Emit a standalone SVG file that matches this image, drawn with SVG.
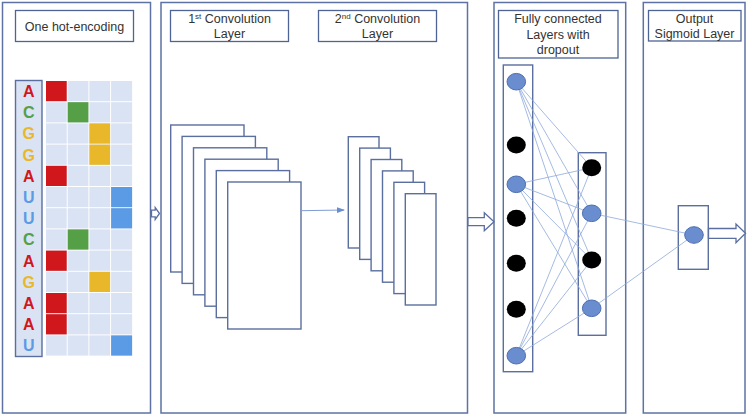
<svg xmlns="http://www.w3.org/2000/svg" width="747" height="416" viewBox="0 0 747 416">
<style>
.panel{fill:#fff;stroke:#5E72A3;stroke-width:1.5}
.hdr{fill:#fff;stroke:#4F6496;stroke-width:1.3}
.t{font-family:"Liberation Sans",Arial,sans-serif;font-size:12.5px;fill:#333;text-anchor:middle}
.sup{font-size:8px}
.lt{font-family:"Liberation Sans",Arial,sans-serif;font-size:16px;font-weight:bold;text-anchor:middle}
.map{fill:#fff;stroke:#5A6E9F;stroke-width:1.4}
.nb{fill:#6A8DCF;stroke:#4D6FAE;stroke-width:1}
.nk{fill:#000}
.conn line{stroke:#8EA9DB;stroke-width:0.8}
.barrow{fill:#fff;stroke:#5A6E9F;stroke-width:1.3}
</style>
<defs>
<marker id="ah" markerWidth="8" markerHeight="8" refX="7" refY="4" orient="auto" markerUnits="userSpaceOnUse">
<path d="M0,1 L8,4 L0,7 Z" fill="#6A8DCF"/>
</marker>
</defs>

<g id="panel-onehot">
<rect class="panel" x="2.5" y="2.5" width="148" height="410.5"/>
<rect class="hdr" x="15.5" y="10.5" width="118" height="31"/>
<text class="t" x="74.5" y="30.5">One hot-encoding</text>
<rect x="15.5" y="80.5" width="26.5" height="276" fill="#DAE3F3" stroke="#5A6E9F" stroke-width="1.4"/>
</g>

<g id="panel-conv">
<rect class="panel" x="161" y="2.5" width="306.5" height="410.5"/>
<rect class="hdr" x="170.5" y="10.5" width="118" height="31"/>
<text class="t" x="229.5" y="22.5">1<tspan class="sup" dy="-4">st</tspan><tspan dy="4"> Convolution</tspan></text>
<text class="t" x="229.5" y="38">Layer</text>
<rect class="hdr" x="318.5" y="10.5" width="118" height="31"/>
<text class="t" x="377.5" y="22.5">2<tspan class="sup" dy="-4">nd</tspan><tspan dy="4"> Convolution</tspan></text>
<text class="t" x="377.5" y="38">Layer</text>
</g>

<g id="conv1">
<rect class="map" x="170.7" y="125" width="73.3" height="147"/>
<rect class="map" x="182.1" y="136.4" width="73.3" height="147"/>
<rect class="map" x="193.5" y="147.8" width="73.3" height="147"/>
<rect class="map" x="204.9" y="159.2" width="73.3" height="147"/>
<rect class="map" x="216.3" y="170.6" width="73.3" height="147"/>
<rect class="map" x="227.7" y="182" width="73.3" height="147"/>
</g>

<g id="conv2">
<rect class="map" x="348.3" y="136.7" width="30.7" height="111.3"/>
<rect class="map" x="359.7" y="148.1" width="30.7" height="111.3"/>
<rect class="map" x="371.1" y="159.5" width="30.7" height="111.3"/>
<rect class="map" x="382.5" y="170.9" width="30.7" height="111.3"/>
<rect class="map" x="393.9" y="182.3" width="30.7" height="111.3"/>
<rect class="map" x="405.3" y="193.7" width="30.7" height="111.3"/>
</g>

<g id="panel-fc">
<rect class="panel" x="494" y="2.5" width="131.7" height="410.5"/>
<rect class="hdr" x="498.5" y="10.5" width="119.5" height="47.5"/>
<text class="t" x="558" y="22.5">Fully connected</text>
<text class="t" x="558" y="38.5">Layers with</text>
<text class="t" x="558" y="54">dropout</text>
<rect class="map" x="503.3" y="65" width="29.4" height="306.7"/>
<rect class="map" x="578.3" y="152.7" width="27.7" height="182.6"/>
</g>

<g id="panel-out">
<rect class="panel" x="643.3" y="2.5" width="101.7" height="410.5"/>
<rect class="hdr" x="648.5" y="10.5" width="92.5" height="30.5"/>
<text class="t" x="694.5" y="22.5">Output</text>
<text class="t" x="694.5" y="38">Sigmoid Layer</text>
<rect class="map" x="678.3" y="205.7" width="30" height="63.6"/>
</g>

<g id="connectors">
<path class="barrow" d="M151.5,210.2 H155.2 V207.5 L159.5,213.5 L155.2,219.5 V216.8 H151.5 Z"/>
<line x1="301" y1="210.7" x2="344" y2="210" stroke="#7F9CD4" stroke-width="1" marker-end="url(#ah)"/>
<path class="barrow" d="M468,217.7 H484.3 V212.7 L494,221.7 L484.3,230.7 V225.7 H468 Z"/>
<path class="barrow" d="M708.5,228.5 H736 V224 L745.5,233.3 L736,242.7 V238.3 H708.5 Z"/>
<g class="conn">
<line x1="516.3" y1="81.7" x2="591.7" y2="167.7"/><line x1="516.3" y1="81.7" x2="591.7" y2="213.3"/><line x1="516.3" y1="81.7" x2="591.7" y2="260"/><line x1="516.3" y1="81.7" x2="591.7" y2="308.3"/>
<line x1="516.3" y1="184.3" x2="591.7" y2="167.7"/><line x1="516.3" y1="184.3" x2="591.7" y2="213.3"/><line x1="516.3" y1="184.3" x2="591.7" y2="260"/><line x1="516.3" y1="184.3" x2="591.7" y2="308.3"/>
<line x1="516.3" y1="355.7" x2="591.7" y2="167.7"/><line x1="516.3" y1="355.7" x2="591.7" y2="213.3"/><line x1="516.3" y1="355.7" x2="591.7" y2="260"/><line x1="516.3" y1="355.7" x2="591.7" y2="308.3"/>
<line x1="591.7" y1="213.3" x2="694" y2="235"/><line x1="591.7" y1="308.3" x2="694" y2="235"/>
</g>
</g>

<g id="fc-nodes">
<ellipse class="nb" cx="516.3" cy="81.7" rx="9.3" ry="8.3"/>
<ellipse class="nk" cx="516.3" cy="145" rx="9.5" ry="8.5"/>
<ellipse class="nb" cx="516.3" cy="184.3" rx="9.3" ry="8.3"/>
<ellipse class="nk" cx="516.3" cy="218.3" rx="9.5" ry="8.5"/>
<ellipse class="nk" cx="516.3" cy="263.3" rx="9.5" ry="8.5"/>
<ellipse class="nk" cx="516.3" cy="309.3" rx="9.5" ry="8.5"/>
<ellipse class="nb" cx="516.3" cy="355.7" rx="9.3" ry="8.3"/>
<ellipse class="nk" cx="591.7" cy="167.7" rx="9.5" ry="8.5"/>
<ellipse class="nb" cx="591.7" cy="213.3" rx="9.3" ry="8.3"/>
<ellipse class="nk" cx="591.7" cy="260" rx="9.5" ry="8.5"/>
<ellipse class="nb" cx="591.7" cy="308.3" rx="9.3" ry="8.3"/>
<ellipse class="nb" cx="694" cy="235" rx="9.3" ry="8.3"/>
</g>

<g id="onehot-matrix">
<g fill="#DAE3F3">
<rect x="46" y="81" width="20.7" height="20.2"/><rect x="67.7" y="81" width="20.7" height="20.2"/><rect x="89.4" y="81" width="20.7" height="20.2"/><rect x="111.1" y="81" width="21" height="20.2"/>
<rect x="46" y="102.2" width="20.7" height="20.2"/><rect x="67.7" y="102.2" width="20.7" height="20.2"/><rect x="89.4" y="102.2" width="20.7" height="20.2"/><rect x="111.1" y="102.2" width="21" height="20.2"/>
<rect x="46" y="123.4" width="20.7" height="20.2"/><rect x="67.7" y="123.4" width="20.7" height="20.2"/><rect x="89.4" y="123.4" width="20.7" height="20.2"/><rect x="111.1" y="123.4" width="21" height="20.2"/>
<rect x="46" y="144.6" width="20.7" height="20.2"/><rect x="67.7" y="144.6" width="20.7" height="20.2"/><rect x="89.4" y="144.6" width="20.7" height="20.2"/><rect x="111.1" y="144.6" width="21" height="20.2"/>
<rect x="46" y="165.8" width="20.7" height="20.2"/><rect x="67.7" y="165.8" width="20.7" height="20.2"/><rect x="89.4" y="165.8" width="20.7" height="20.2"/><rect x="111.1" y="165.8" width="21" height="20.2"/>
<rect x="46" y="187" width="20.7" height="20.2"/><rect x="67.7" y="187" width="20.7" height="20.2"/><rect x="89.4" y="187" width="20.7" height="20.2"/><rect x="111.1" y="187" width="21" height="20.2"/>
<rect x="46" y="208.2" width="20.7" height="20.2"/><rect x="67.7" y="208.2" width="20.7" height="20.2"/><rect x="89.4" y="208.2" width="20.7" height="20.2"/><rect x="111.1" y="208.2" width="21" height="20.2"/>
<rect x="46" y="229.4" width="20.7" height="20.2"/><rect x="67.7" y="229.4" width="20.7" height="20.2"/><rect x="89.4" y="229.4" width="20.7" height="20.2"/><rect x="111.1" y="229.4" width="21" height="20.2"/>
<rect x="46" y="250.6" width="20.7" height="20.2"/><rect x="67.7" y="250.6" width="20.7" height="20.2"/><rect x="89.4" y="250.6" width="20.7" height="20.2"/><rect x="111.1" y="250.6" width="21" height="20.2"/>
<rect x="46" y="271.8" width="20.7" height="20.2"/><rect x="67.7" y="271.8" width="20.7" height="20.2"/><rect x="89.4" y="271.8" width="20.7" height="20.2"/><rect x="111.1" y="271.8" width="21" height="20.2"/>
<rect x="46" y="293" width="20.7" height="20.2"/><rect x="67.7" y="293" width="20.7" height="20.2"/><rect x="89.4" y="293" width="20.7" height="20.2"/><rect x="111.1" y="293" width="21" height="20.2"/>
<rect x="46" y="314.2" width="20.7" height="20.2"/><rect x="67.7" y="314.2" width="20.7" height="20.2"/><rect x="89.4" y="314.2" width="20.7" height="20.2"/><rect x="111.1" y="314.2" width="21" height="20.2"/>
<rect x="46" y="335.4" width="20.7" height="20.2"/><rect x="67.7" y="335.4" width="20.7" height="20.2"/><rect x="89.4" y="335.4" width="20.7" height="20.2"/><rect x="111.1" y="335.4" width="21" height="20.2"/>
</g>
<rect x="46" y="81" width="20.7" height="20.2" fill="#D0181C"/>
<rect x="67.7" y="102.2" width="20.7" height="20.2" fill="#55A046"/>
<rect x="89.4" y="123.4" width="20.7" height="20.2" fill="#E8B82A"/>
<rect x="89.4" y="144.6" width="20.7" height="20.2" fill="#E8B82A"/>
<rect x="46" y="165.8" width="20.7" height="20.2" fill="#D0181C"/>
<rect x="111.1" y="187" width="21" height="20.2" fill="#5B9BE6"/>
<rect x="111.1" y="208.2" width="21" height="20.2" fill="#5B9BE6"/>
<rect x="67.7" y="229.4" width="20.7" height="20.2" fill="#55A046"/>
<rect x="46" y="250.6" width="20.7" height="20.2" fill="#D0181C"/>
<rect x="89.4" y="271.8" width="20.7" height="20.2" fill="#E8B82A"/>
<rect x="46" y="293" width="20.7" height="20.2" fill="#D0181C"/>
<rect x="46" y="314.2" width="20.7" height="20.2" fill="#D0181C"/>
<rect x="111.1" y="335.4" width="21" height="20.2" fill="#5B9BE6"/>
</g>

<g id="sequence">
<text class="lt" x="28.7" y="97" fill="#D0181C">A</text>
<text class="lt" x="28.7" y="118.2" fill="#55A046">C</text>
<text class="lt" x="28.7" y="139.4" fill="#E8B82A">G</text>
<text class="lt" x="28.7" y="160.6" fill="#E8B82A">G</text>
<text class="lt" x="28.7" y="181.8" fill="#D0181C">A</text>
<text class="lt" x="28.7" y="203" fill="#5B9BE6">U</text>
<text class="lt" x="28.7" y="224.2" fill="#5B9BE6">U</text>
<text class="lt" x="28.7" y="245.4" fill="#55A046">C</text>
<text class="lt" x="28.7" y="266.6" fill="#D0181C">A</text>
<text class="lt" x="28.7" y="287.8" fill="#E8B82A">G</text>
<text class="lt" x="28.7" y="309" fill="#D0181C">A</text>
<text class="lt" x="28.7" y="330.2" fill="#D0181C">A</text>
<text class="lt" x="28.7" y="351.4" fill="#5B9BE6">U</text>
</g>
</svg>
